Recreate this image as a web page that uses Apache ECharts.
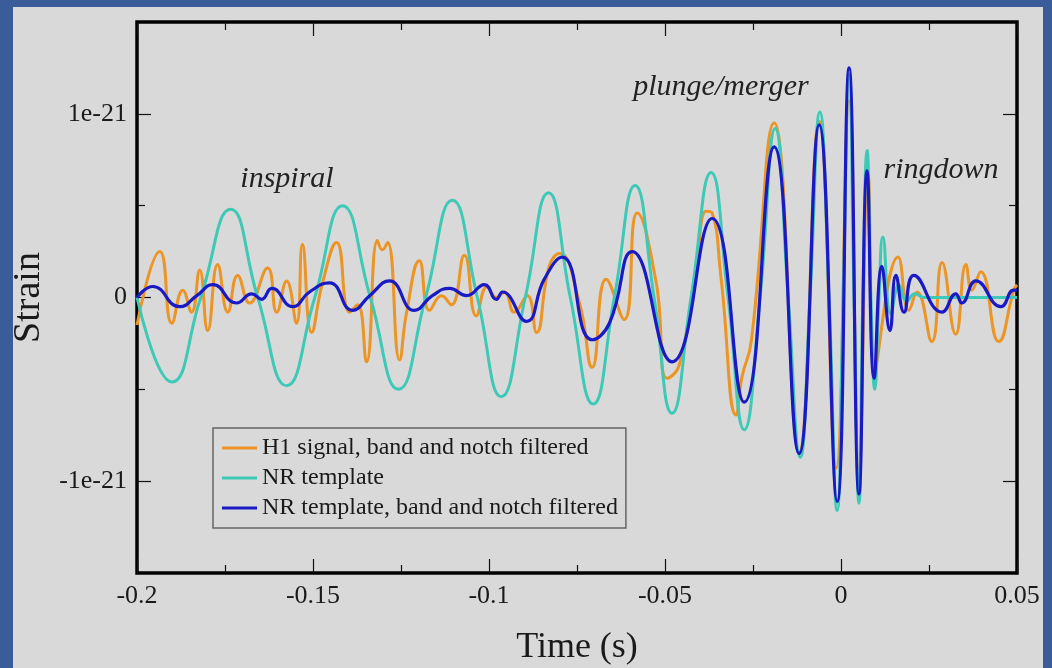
<!DOCTYPE html>
<html><head><meta charset="utf-8">
<script src="https://cdn.jsdelivr.net/npm/echarts@6/dist/echarts.min.js"></script>
<style>
html,body{margin:0;padding:0;background:#3a5c99;width:1052px;height:668px;overflow:hidden}
#panel{position:absolute;left:13px;top:7px;width:1030px;height:661px;background:#d9d9d9}
#chart{position:absolute;left:0;top:0;width:1052px;height:668px}
</style></head><body><div id="panel"></div><div id="chart"></div>
<script>
// Strain values are given in units of 1e-21
const seriesNames = ['H1 signal, band and notch filtered', 'NR template', 'NR template, band and notch filtered'];
const xTicks = [-0.2, -0.15, -0.1, -0.05, 0, 0.05];
const yTickLabels = {'-1': '-1e-21', '0': '0', '1': '1e-21'};

const h1Time = [-0.2000,-0.1935,-0.1901,-0.1870,-0.1845,-0.1822,-0.1799,-0.1771,-0.1742,-0.1714,-0.1680,-0.1629,-0.1603,-0.1575,-0.1547,-0.1530,-0.1504,-0.1473,-0.1433,-0.1396,-0.1373,-0.1348,-0.1317,-0.1303,-0.1288,-0.1254,-0.1234,-0.1198,-0.1169,-0.1135,-0.1107,-0.1070,-0.1036,-0.1005,-0.0979,-0.0956,-0.0928,-0.0891,-0.0865,-0.0829,-0.0800,-0.0743,-0.0707,-0.0667,-0.0616,-0.0579,-0.0525,-0.0494,-0.0460,-0.0411,-0.0383,-0.0366,-0.0341,-0.0298,-0.0281,-0.0255,-0.0190,-0.0119,-0.0062,-0.0014,0.0023,0.0051,0.0077,0.0096,0.0162,0.0193,0.0216,0.0258,0.0287,0.0326,0.0355,0.0372,0.0397,0.0448,0.0491,0.0500];
const h1Strain = [-0.15,0.25,-0.14,0.04,-0.08,0.15,-0.18,0.18,-0.08,0.12,-0.03,0.16,-0.08,0.09,-0.14,0.29,-0.19,0.08,0.30,-0.08,-0.04,-0.35,0.31,0.26,0.30,-0.34,-0.08,0.20,-0.07,0.01,-0.04,0.23,-0.10,0.06,0.00,0.03,-0.08,0.01,-0.19,0.17,0.24,-0.03,-0.38,0.10,-0.12,0.46,0.08,-0.44,-0.37,0.17,0.47,0.46,0.11,-0.64,-0.43,-0.24,0.95,-0.84,0.96,-0.93,1.07,-0.93,0.67,-0.39,0.22,-0.07,0.03,-0.24,0.19,-0.20,0.18,0.04,0.14,-0.24,0.04,0.07];

const nrTime = [-0.2000,-0.1901,-0.1819,-0.1734,-0.1657,-0.1575,-0.1495,-0.1416,-0.1337,-0.1257,-0.1180,-0.1104,-0.1033,-0.0965,-0.0897,-0.0831,-0.0769,-0.0704,-0.0644,-0.0585,-0.0531,-0.0480,-0.0426,-0.0369,-0.0321,-0.0275,-0.0230,-0.0187,-0.0150,-0.0116,-0.0088,-0.0060,-0.0034,-0.0011,0.0006,0.0023,0.0037,0.0051,0.0062,0.0074,0.0085,0.0096,0.0108,0.0119,0.0142,0.0165,0.0187,0.0210,0.0236,0.0500];
const nrStrain = [0,-0.46,0,0.48,0,-0.48,0,0.50,0,-0.50,0,0.53,0,-0.54,0,0.57,0,-0.58,0,0.61,0,-0.63,0,0.68,0,-0.72,0,0.92,0,-0.87,0,1.01,0,-1.16,0,1.21,0,-1.12,0,0.80,0,-0.50,0,0.33,-0.09,0.07,-0.02,0.02,0,0];

const nrfTime = [-0.2000,-0.1955,-0.1879,-0.1830,-0.1785,-0.1717,-0.1674,-0.1646,-0.1617,-0.1558,-0.1510,-0.1453,-0.1388,-0.1339,-0.1283,-0.1212,-0.1161,-0.1112,-0.1064,-0.1013,-0.0979,-0.0962,-0.0894,-0.0843,-0.0792,-0.0707,-0.0658,-0.0593,-0.0480,-0.0366,-0.0275,-0.0190,-0.0119,-0.0062,-0.0011,0.0023,0.0051,0.0074,0.0094,0.0116,0.0139,0.0156,0.0179,0.0207,0.0287,0.0326,0.0343,0.0383,0.0454,0.0491,0.0500];
const nrfStrain = [0,0.06,-0.05,0.01,0.07,-0.03,0.02,-0.01,0.05,-0.05,0.03,0.08,-0.07,0.01,0.09,-0.07,0.01,0.05,0.01,0.07,-0.01,0.03,-0.13,0.10,0.22,-0.23,-0.14,0.25,-0.35,0.43,-0.57,0.82,-0.85,0.94,-1.11,1.25,-1.07,0.69,-0.44,0.17,-0.18,0.12,-0.08,0.12,-0.08,0.02,-0.03,0.09,-0.05,0.04,0.04];

const annotations = ['inspiral', 'plunge/merger', 'ringdown'];

function zip(a, b) { return a.map((t, i) => [t, b[i]]); }

const COLORS = ['#ec9424', '#3ec9b6', '#1a1ac4'];
const SERIF = '"Liberation Serif", "DejaVu Serif", serif';

const chart = echarts.init(document.getElementById('chart'), null, {renderer: 'canvas'});

function xAxisDef(pos, labels) {
  return {
    type: 'value', position: pos, min: -0.2, max: 0.05, interval: 0.05,
    name: labels ? 'Time (s)' : '', nameLocation: 'middle', nameGap: 57,
    nameTextStyle: {fontFamily: SERIF, fontSize: 36, color: '#1a1a1a'},
    axisLine: {show: false, onZero: false},
    axisTick: {show: true, inside: true, length: 14, lineStyle: {color: '#111', width: 1.2}},
    minorTick: {show: true, splitNumber: 2, length: 8, lineStyle: {color: '#111', width: 1.2}},
    splitLine: {show: false},
    axisLabel: {show: labels, margin: 10, fontFamily: SERIF, fontSize: 26, color: '#1a1a1a',
      showMinLabel: true, showMaxLabel: true,
      formatter: v => { const m = xTicks.find(t => Math.abs(t - v) < 1e-9); return m === undefined ? '' : String(m); }}
  };
}
function yAxisDef(pos, major, labels) {
  return {
    type: 'value', position: pos, min: -1.5, max: 1.5, interval: 0.5,
    name: labels ? 'Strain' : '', nameLocation: 'middle', nameGap: 87,
    nameTextStyle: {fontFamily: SERIF, fontSize: 38, color: '#1a1a1a'},
    axisLine: {show: false, onZero: false},
    axisTick: {show: true, inside: true, length: major ? 14 : 8,
      customValues: major ? [-1, 0, 1] : [-0.5, 0.5], lineStyle: {color: '#111', width: 1.2}},
    splitLine: {show: false},
    axisLabel: {show: labels, margin: 10, fontFamily: SERIF, fontSize: 26, color: '#1a1a1a',
      customValues: [-1, 0, 1],
      formatter: v => yTickLabels[String(Math.round(v))] || ''}
  };
}

const option = {
  animation: false,
  backgroundColor: 'transparent',
  grid: {left: 137, right: 35, top: 22, bottom: 95, containLabel: false, outerBoundsMode: 'none', show: true,
    borderColor: '#000', borderWidth: 3.5, backgroundColor: 'transparent'},
  xAxis: [xAxisDef('bottom', true), xAxisDef('top', false)],
  yAxis: [yAxisDef('left', true, true), yAxisDef('left', false, false), yAxisDef('right', true, false), yAxisDef('right', false, false)],
  legend: {
    data: seriesNames, orient: 'vertical', left: 213, top: 428,
    icon: 'rect', itemWidth: 35, itemHeight: 3, itemGap: 6,
    padding: [8, 8, 8, 9], borderColor: '#666', borderWidth: 1.5, borderRadius: 0,
    backgroundColor: 'rgba(0,0,0,0)',
    textStyle: {fontFamily: SERIF, fontSize: 24, color: '#1a1a1a'}
  },
  graphic: [
    {type: 'text', x: 287, y: 179, style: {text: annotations[0], font: 'italic 30px ' + SERIF, fill: '#222', align: 'center', verticalAlign: 'middle'}},
    {type: 'text', x: 721, y: 87, style: {text: annotations[1], font: 'italic 30px ' + SERIF, fill: '#222', align: 'center', verticalAlign: 'middle'}},
    {type: 'text', x: 941, y: 170, style: {text: annotations[2], font: 'italic 30px ' + SERIF, fill: '#222', align: 'center', verticalAlign: 'middle'}}
  ],
  series: [
    {name: seriesNames[0], type: 'line', data: zip(h1Time, h1Strain), showSymbol: false, smooth: 0.5,
      lineStyle: {color: COLORS[0], width: 3}, itemStyle: {color: COLORS[0]}},
    {name: seriesNames[1], type: 'line', data: zip(nrTime, nrStrain), showSymbol: false, smooth: 0.5,
      lineStyle: {color: COLORS[1], width: 3}, itemStyle: {color: COLORS[1]}},
    {name: seriesNames[2], type: 'line', data: zip(nrfTime, nrfStrain), showSymbol: false, smooth: 0.5,
      lineStyle: {color: COLORS[2], width: 3.2}, itemStyle: {color: COLORS[2]}}
  ]
};
chart.setOption(option);
</script></body></html>
